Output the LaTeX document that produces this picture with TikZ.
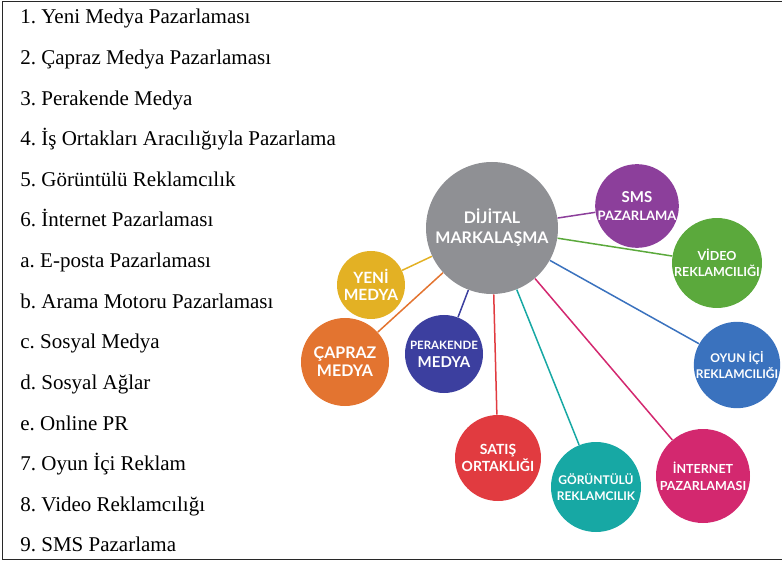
\documentclass[tikz,border=0pt]{standalone}
\usepackage{fontspec}
\setmainfont{Liberation Serif}
\newfontfamily\bubblefont{Lato}
\frenchspacing

\definecolor{dmgrey}{RGB}{143,144,148}
\definecolor{smspurple}{RGB}{140,63,155}
\definecolor{videogreen}{RGB}{91,169,60}
\definecolor{oyunblue}{RGB}{58,114,190}
\definecolor{yeniyellow}{RGB}{227,177,36}
\definecolor{caprazorange}{RGB}{227,116,48}
\definecolor{perakindigo}{RGB}{60,63,159}
\definecolor{satisred}{RGB}{225,59,64}
\definecolor{gorteal}{RGB}{23,168,164}
\definecolor{netmagenta}{RGB}{211,40,111}

\newcommand{\bsize}[2]{\bubblefont\bfseries\fontsize{#1}{#2}\selectfont}

\tikzset{every picture/.style={line width=0.75pt}}
\tikzset{
  bubble/.style={circle, inner sep=0pt, text=white, align=center},
  spoke/.style={line width=1.5pt},
  listitem/.style={anchor=base west, inner sep=0pt, font=\fontsize{21}{24}\selectfont},
}

\begin{document}
\begin{tikzpicture}[x=1pt,y=-1pt]
\useasboundingbox (0,0) rectangle (782,561);

%frame
\draw [color={rgb, 255:red, 40; green, 40; blue, 40 }] (782,1) -- (2,1) -- (2,559) -- (782,559);

% list on the left
\node [listitem] (l1) at (20,24) {1. Yeni Medya Pazarlaması};
\node [listitem] (l2) at (20,64.6) {2. Çapraz Medya Pazarlaması};
\node [listitem] (l3) at (20,105.2) {3. Perakende Medya};
\node [listitem] (l4) at (20,145.8) {4. İş Ortakları Aracılığıyla Pazarlama};
\node [listitem] (l5) at (20,186.4) {5. Görüntülü Reklamcılık};
\node [listitem] (l6) at (20,227) {6. İnternet Pazarlaması};
\node [listitem] (la) at (20,267.6) {a. E-posta Pazarlaması};
\node [listitem] (lb) at (20,308.2) {b. Arama Motoru Pazarlaması};
\node [listitem] (lc) at (20,348.8) {c. Sosyal Medya};
\node [listitem] (ld) at (20,389.4) {d. Sosyal Ağlar};
\node [listitem] (le) at (20,430) {e. Online PR};
\node [listitem] (l7) at (20,470.6) {7. Oyun İçi Reklam};
\node [listitem] (l8) at (20,511.2) {8. Video Reklamcılığı};
\node [listitem] (l9) at (20,551.8) {9. SMS Pazarlama};

% bubbles
\node [bubble, fill=dmgrey, minimum size=132, font=\bsize{16}{20}] (dm) at (492,228) {DİJİTAL\\MARKALAŞMA};
\node [bubble, fill=smspurple, minimum size=82, font=\bsize{13}{18}] (sms) at (637,206) {{\fontsize{15}{18}\selectfont SMS}\\PAZARLAMA};
\node [bubble, fill=videogreen, minimum size=88, font=\bsize{12.5}{16}] (video) at (717,263) {VİDEO\\REKLAMCILIĞI};
\node [bubble, fill=oyunblue, minimum size=86, font=\bsize{12}{16}] (oyun) at (737,365) {OYUN İÇİ\\REKLAMCILIĞI};
\node [bubble, fill=yeniyellow, minimum size=68, font=\bsize{15.5}{17}] (yeni) at (371,285) {YENİ\\MEDYA};
\node [bubble, fill=caprazorange, minimum size=88, font=\bsize{16}{18}] (capraz) at (345,362) {ÇAPRAZ\\MEDYA};
\node [bubble, fill=perakindigo, minimum size=78, font=\bsize{15}{18}] (perak) at (444,354) {{\fontsize{11.5}{12}\selectfont PERAKENDE}\\MEDYA};
\node [bubble, fill=satisred, minimum size=86, font=\bsize{14}{17}] (satis) at (498,458) {SATIŞ\\ORTAKLIĞI};
\node [bubble, fill=gorteal, minimum size=90, font=\bsize{12}{16}] (gorunt) at (596,487) {GÖRÜNTÜLÜ\\REKLAMCILIK};
\node [bubble, fill=netmagenta, minimum size=94, font=\bsize{12.5}{17}] (internet) at (703,476) {İNTERNET\\PAZARLAMASI};

% spokes
\draw [spoke, smspurple] (dm) -- (sms);
\draw [spoke, videogreen] (dm) -- (video);
\draw [spoke, oyunblue] (dm) -- (oyun);
\draw [spoke, yeniyellow] (dm) -- (yeni);
\draw [spoke, caprazorange] (dm) -- (capraz);
\draw [spoke, perakindigo] (dm) -- (perak);
\draw [spoke, satisred] (dm) -- (satis);
\draw [spoke, gorteal] (dm) -- (gorunt);
\draw [spoke, netmagenta] (dm) -- (internet);
\end{tikzpicture}
\end{document}
